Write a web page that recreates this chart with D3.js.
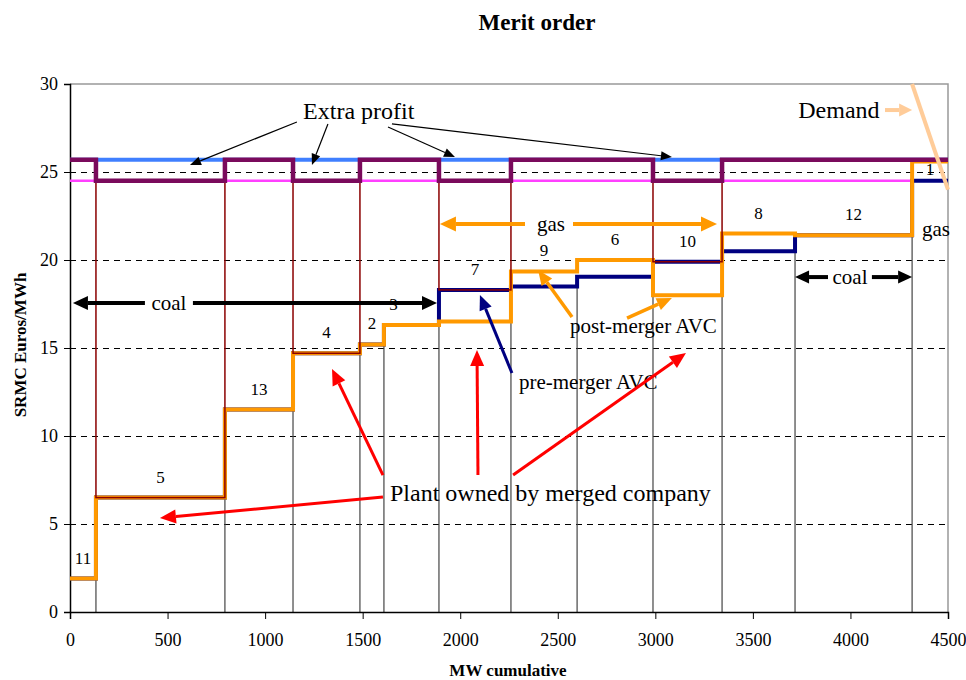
<!DOCTYPE html>
<html>
<head>
<meta charset="utf-8">
<script src="https://cdn.jsdelivr.net/npm/d3@7"></script>
<style>
  body { margin: 0; background: #fff; }
  text { font-family: "Liberation Serif", "Times New Roman", serif; }
</style>
</head>
<body>
<svg id="chart"></svg>
<script>
var WIDTH = 966, HEIGHT = 680;
var MARGIN = { top: 84, right: 18, bottom: 68, left: 70 };

// plant blocks in merit order (MW cumulative boundaries)
var boundaries = [0, 133, 794, 1143, 1486, 1609, 1891, 2260, 2599, 2988, 3342, 3716, 4316, 4500];
var plantIds   = ["11", "5", "13", "4", "2", "3", "7", "9", "6", "10", "8", "12", "1"];
var avcPre     = [1.9, 6.5, 11.5, 14.7, 15.2, 16.3, 18.3, 18.5, 19.05, 19.9, 20.5, 21.4, 24.5];
var avcPost    = [1.9, 6.5, 11.5, 14.7, 15.2, 16.3, 16.5, 19.35, 20.0, 18.0, 21.5, 21.4, 25.6];
var mergedPlants = ["5", "4", "7", "10"];
var pricePost = 25.7;
var pricePre = 24.5;
var demandMW = [4316, 4500];
var demandPrice = [30, 24];
var yTicks = [0, 5, 10, 15, 20, 25, 30];
var xTicks = [0, 500, 1000, 1500, 2000, 2500, 3000, 3500, 4000, 4500];

var svg = d3.select("#chart").attr("width", WIDTH).attr("height", HEIGHT);
var x = d3.scaleLinear().domain([0, 4500]).range([MARGIN.left, WIDTH - MARGIN.right]);
var y = d3.scaleLinear().domain([0, 30]).range([HEIGHT - MARGIN.bottom, MARGIN.top]);

function stepPoints(vals) {
    var pts = vals.map(function(v, i) { return [boundaries[i], v]; });
    pts.push([boundaries[boundaries.length - 1], vals[vals.length - 1]]);
    return pts;
}
var stepLine = d3.line()
    .x(function(d) { return x(d[0]); })
    .y(function(d) { return y(d[1]); })
    .curve(d3.curveStepAfter);

function arrow(g, x1, y1, x2, y2, color, w, hl, hw) {
    // coordinates in data units
    var ax = x(x1), ay = y(y1), bx = x(x2), by = y(y2);
    var ang = Math.atan2(by - ay, bx - ax);
    var cx = bx - hl * Math.cos(ang), cy = by - hl * Math.sin(ang);
    g.append("line").attr("x1", ax).attr("y1", ay).attr("x2", cx).attr("y2", cy)
        .attr("stroke", color).attr("stroke-width", w);
    var px = -Math.sin(ang) * hw / 2, py = Math.cos(ang) * hw / 2;
    g.append("polygon")
        .attr("points", [[bx, by], [cx + px, cy + py], [cx - px, cy - py]].join(" "))
        .attr("fill", color);
}

// dashed gridlines
svg.append("g").selectAll("line")
    .data(yTicks.filter(function(t) { return t > 0 && t < 30; }))
    .enter().append("line")
    .attr("x1", x(0)).attr("x2", x(4500))
    .attr("y1", function(d) { return Math.round(y(d)) + 0.5; })
    .attr("y2", function(d) { return Math.round(y(d)) + 0.5; })
    .attr("stroke", "#000").attr("stroke-width", 1).attr("stroke-dasharray", "6,5")
    .attr("shape-rendering", "crispEdges");

// drop lines at block boundaries
var inner = boundaries.slice(1, boundaries.length - 1);
svg.append("g").selectAll("line")
    .data(inner)
    .enter().append("line")
    .attr("x1", function(d) { return x(d); }).attr("x2", function(d) { return x(d); })
    .attr("y1", y(0))
    .attr("y2", function(d, i) {
        return y(Math.min(avcPre[i], avcPre[i + 1], avcPost[i], avcPost[i + 1]));
    })
    .attr("stroke", "#444").attr("stroke-width", 1.2);

// frame
svg.append("path")
    .attr("d", "M" + x(0) + "," + y(30) + "H" + x(4500) + "V" + y(0))
    .attr("fill", "none").attr("stroke", "#999").attr("stroke-width", 1.5);

var yAxis = svg.append("g")
    .attr("transform", "translate(" + x(0) + ",0)")
    .call(d3.axisLeft(y).tickValues(yTicks).tickSize(6).tickPadding(6).tickFormat(d3.format("d")));
var xAxis = svg.append("g")
    .attr("transform", "translate(0," + y(0) + ")")
    .call(d3.axisBottom(x).tickValues(xTicks).tickSize(7).tickPadding(14).tickFormat(d3.format("d")));
[yAxis, xAxis].forEach(function(a) {
    a.attr("font-family", null);
    a.select(".domain").attr("stroke", "#000").attr("stroke-width", 1.5);
    a.selectAll(".tick line").attr("stroke", "#000");
    a.selectAll("text").attr("font-size", 18).attr("fill", "#000");
});

// price lines
svg.append("line").attr("x1", x(0)).attr("x2", x(4500))
    .attr("y1", y(pricePre)).attr("y2", y(pricePre))
    .attr("stroke", "#ff40ff").attr("stroke-width", 2.5);
svg.append("line").attr("x1", x(0)).attr("x2", x(4500))
    .attr("y1", y(pricePost)).attr("y2", y(pricePost))
    .attr("stroke", "#3f7fff").attr("stroke-width", 4);

// AVC curves
svg.append("path").datum(stepPoints(avcPre)).attr("d", stepLine)
    .attr("fill", "none").attr("stroke", "#000080").attr("stroke-width", 4);
svg.append("path").datum(stepPoints(avcPost)).attr("d", stepLine)
    .attr("fill", "none").attr("stroke", "#ff9900").attr("stroke-width", 4);

// merged company plant boxes
svg.append("g").selectAll("rect")
    .data(plantIds.map(function(p, i) { return i; })
        .filter(function(i) { return mergedPlants.indexOf(plantIds[i]) >= 0; }))
    .enter().append("rect")
    .attr("x", function(i) { return x(boundaries[i]); })
    .attr("width", function(i) { return x(boundaries[i + 1]) - x(boundaries[i]); })
    .attr("y", y(pricePre))
    .attr("height", function(i) { return y(avcPre[i]) - y(pricePre); })
    .attr("fill", "none").attr("stroke", "#8b0000").attr("stroke-width", 1.5);

// merged firm price step
var firmPrice = plantIds.map(function(p) {
    return mergedPlants.indexOf(p) >= 0 ? pricePre : pricePost;
});
svg.append("path").datum(stepPoints(firmPrice)).attr("d", stepLine)
    .attr("fill", "none").attr("stroke", "#7a0a5c").attr("stroke-width", 4.5);

// plant labels
var nudge = { "3": [-18, 0], "1": [0, 9] };
svg.append("g").selectAll("text")
    .data(plantIds)
    .enter().append("text")
    .attr("x", function(d, i) {
        return (x(boundaries[i]) + x(boundaries[i + 1])) / 2 + (nudge[d] ? nudge[d][0] : 0);
    })
    .attr("y", function(d, i) {
        var top = Math.min(Math.max(avcPre[i], avcPost[i]), pricePre);
        return y(top) - 21 + (nudge[d] ? nudge[d][1] : 0);
    })
    .attr("dy", "0.35em").attr("text-anchor", "middle")
    .attr("font-size", 17).text(function(d) { return d; });

// annotations
var ann = svg.append("g");
function label(tx, ty, str, size, anchor) {
    ann.append("text").attr("x", x(tx)).attr("y", y(ty)).attr("dy", "0.35em")
        .attr("text-anchor", anchor || "middle").attr("font-size", size).text(str);
}
label(1480, 28.5, "Extra profit", 24);
arrow(ann, 1163, 27.84, 615, 25.4, "#000", 1.2, 11, 9);
arrow(ann, 1322, 27.73, 1240, 25.4, "#000", 1.2, 11, 9);
arrow(ann, 1630, 27.56, 1973, 25.85, "#000", 1.2, 11, 9);
arrow(ann, 1650, 27.73, 3085, 25.85, "#000", 1.2, 11, 9);

label(3941, 28.52, "Demand", 24);
arrow(ann, 4177, 28.52, 4316, 28.52, "#ffcc99", 4, 13, 13);

label(507, 17.56, "coal", 21);
arrow(ann, 384, 17.56, 15, 17.56, "#000", 4, 15, 14);
arrow(ann, 630, 17.56, 1881, 17.56, "#000", 4, 15, 14);
label(3998, 19.03, "coal", 21);
arrow(ann, 3885, 19.03, 3716, 19.03, "#000", 4, 14, 13);
arrow(ann, 4110, 19.03, 4316, 19.03, "#000", 4, 14, 13);

label(2465, 22.05, "gas", 21);
arrow(ann, 2332, 22.05, 1896, 22.05, "#ff9900", 4, 16, 15);
arrow(ann, 2578, 22.05, 3316, 22.05, "#ff9900", 4, 16, 15);
label(4367, 21.76, "gas", 21, "start");

label(2301, 13.07, "pre-merger AVC", 21, "start");
arrow(ann, 2265, 13.58, 2101, 18.01, "#000080", 3, 15, 13);

label(2563, 16.25, "post-merger AVC", 21, "start");
arrow(ann, 2573, 16.76, 2399, 19.43, "#ff9900", 3.5, 15, 13);
arrow(ann, 2855, 16.7, 3085, 17.84, "#ff9900", 3.5, 15, 13);

label(1640, 6.76, "Plant owned by merged company", 24, "start");
arrow(ann, 1604, 6.53, 461, 5.34, "#ff0000", 3, 16, 14);
arrow(ann, 1604, 7.78, 1343, 13.81, "#ff0000", 3, 16, 14);
arrow(ann, 2091, 7.78, 2086, 14.89, "#ff0000", 3, 16, 14);
arrow(ann, 2271, 7.78, 3157, 14.72, "#ff0000", 3, 16, 14);

// demand curve
svg.append("path")
    .datum(demandMW.map(function(m, i) { return [m, demandPrice[i]]; }))
    .attr("d", d3.line().x(function(d) { return x(d[0]); }).y(function(d) { return y(d[1]); }))
    .attr("fill", "none").attr("stroke", "#ffcc99").attr("stroke-width", 4);

// titles
svg.append("text").attr("x", 537).attr("y", 30).attr("text-anchor", "middle")
    .attr("font-size", 23).attr("font-weight", "bold").text("Merit order");
svg.append("text").attr("x", 508).attr("y", 676).attr("text-anchor", "middle")
    .attr("font-size", 17).attr("font-weight", "bold").text("MW cumulative");
svg.append("text").attr("transform", "translate(26,345) rotate(-90)")
    .attr("text-anchor", "middle")
    .attr("font-size", 17).attr("font-weight", "bold").text("SRMC Euros/MWh");
</script>
</body>
</html>
